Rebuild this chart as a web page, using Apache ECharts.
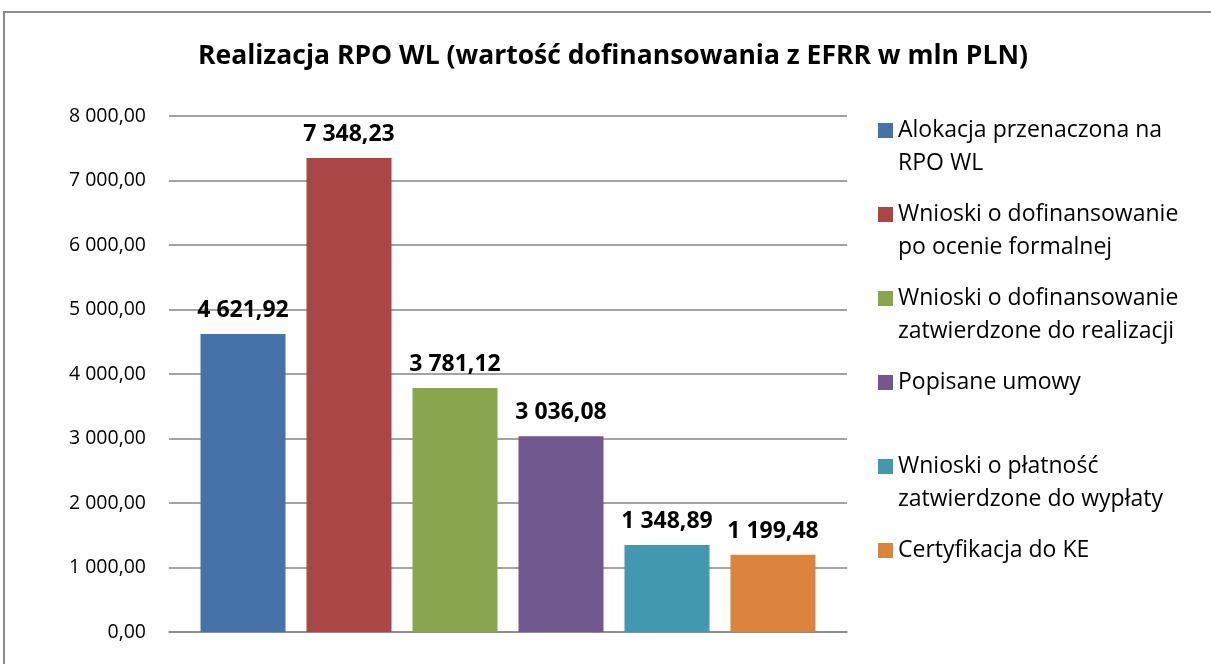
<!DOCTYPE html>
<html>
<head>
<meta charset="utf-8">
<script src="https://cdn.jsdelivr.net/npm/echarts@6/dist/echarts.min.js"></script>
<style>
  html, body { margin: 0; padding: 0; background: #fff; }
  #chart { width: 1211px; height: 664px; }
</style>
</head>
<body>
<div id="chart"></div>
<script>
// dane z wykresu (mln PLN)
const seriesNames = [
  "Alokacja przenaczona na\nRPO WL",
  "Wnioski o dofinansowanie\npo ocenie formalnej",
  "Wnioski o dofinansowanie\nzatwierdzone do realizacji",
  "Popisane umowy",
  "Wnioski o płatność\nzatwierdzone do wypłaty",
  "Certyfikacja do KE",
];
const values = [4621.92, 7348.23, 3781.12, 3036.08, 1348.89, 1199.48];
const categories = [""];
const yTicks = [0, 1000, 2000, 3000, 4000, 5000, 6000, 7000, 8000];

const palette = ["#4572a7", "#aa4643", "#89a54e", "#71588f", "#4198af", "#db843d"];
const FONT = "Open Sans";

// 7348.23 -> "7 348,23"
function fmt(v) {
  const parts = Number(v).toFixed(2).split(".");
  const intPart = parts[0].replace(/\B(?=(\d{3})+(?!\d))/g, " ");
  return intPart + "," + parts[1];
}

const chart = echarts.init(document.getElementById("chart"));

const series = seriesNames.map((name, i) => ({
  name: name,
  type: "bar",
  data: [values[i]],
  barWidth: 85,
  barGap: "24.7%",
  itemStyle: { color: palette[i] },
  label: {
    show: true,
    position: "top",
    distance: 12,
    formatter: p => fmt(p.value),
    fontFamily: FONT,
    fontWeight: "bold",
    fontSize: 23,
    color: "#000",
  },
}));

chart.setOption({
  animation: false,
  color: palette,
  title: {
    text: "Realizacja RPO WL (wartość dofinansowania z EFRR w mln PLN)",
    left: 608,
    top: 38,
    textAlign: "center",
    textStyle: {
      fontFamily: FONT,
      fontWeight: "bold",
      fontSize: 26.5,
      color: "#000",
    },
  },
  graphic: [
    {
      type: "rect",
      shape: { x: 4, y: 12, width: 1240, height: 700 },
      style: { fill: null, stroke: "#8c8c8c", lineWidth: 2 },
      silent: true,
    },
  ],
  legend: {
    orient: "vertical",
    left: 878,
    top: 114,
    padding: 0,
    itemWidth: 15,
    itemHeight: 48,
    itemGap: 18,
    // kwadrat u gory, niewidoczny punkt na dole -> znacznik przy pierwszej linii
    icon: "path://M0,0h15v15h-15z M15,48L15,48",
    // Excel daje kazdej pozycji dwie linie
    formatter: name => (name.indexOf("\n") < 0 ? name + "\n\u00a0" : name),
    textStyle: {
      fontFamily: FONT,
      fontSize: 23,
      lineHeight: 33,
      color: "#000",
    },
  },
  grid: {
    left: 169,
    right: 364,
    top: 116,
    bottom: 32,
  },
  xAxis: {
    type: "category",
    data: categories,
    axisLine: { show: true, lineStyle: { color: "#868686", width: 1.5 } },
    axisTick: { show: false },
    axisLabel: { show: false },
  },
  yAxis: {
    type: "value",
    min: yTicks[0],
    max: yTicks[yTicks.length - 1],
    interval: 1000,
    axisLine: { show: false },
    axisTick: { show: false },
    splitLine: { lineStyle: { color: "#868686", width: 1.5 } },
    axisLabel: {
      margin: 23,
      formatter: v => fmt(v),
      fontFamily: FONT,
      fontSize: 19.5,
      color: "#000",
    },
  },
  series: series,
});
</script>
</body>
</html>
